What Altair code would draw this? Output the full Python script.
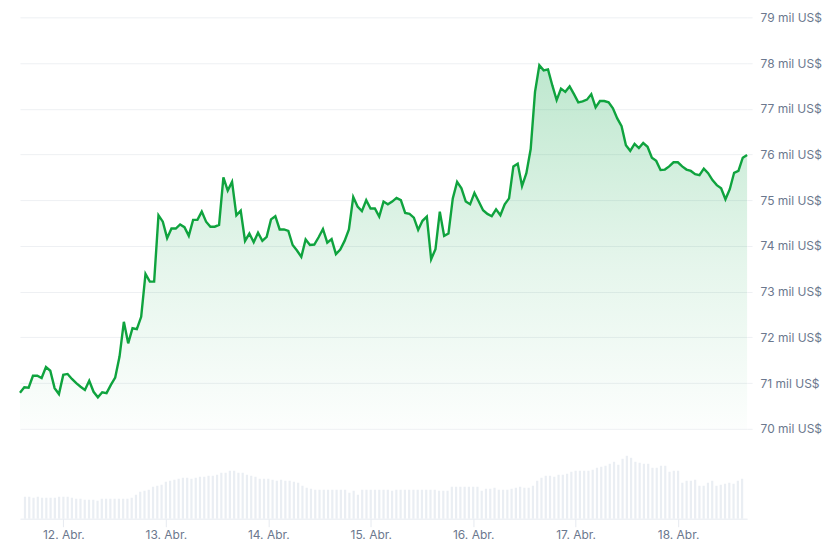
import altair as alt
import pandas as pd

start = "2024-04-11 15:00"
n_hours = 169

prices = [
    70.79, 70.91, 70.90, 71.16, 71.16, 71.11, 71.35, 71.27, 70.89, 70.76,
    71.18, 71.20, 71.09, 71.00, 70.92, 70.85, 71.05, 70.81, 70.69, 70.80,
    70.78, 70.96, 71.12, 71.58, 72.34, 71.87, 72.20, 72.18, 72.45, 73.39,
    73.22, 73.22, 74.67, 74.53, 74.17, 74.38, 74.38, 74.47, 74.41, 74.22,
    74.57, 74.57, 74.75, 74.53, 74.42, 74.42, 74.46, 75.50, 75.21, 75.40,
    74.67, 74.77, 74.11, 74.27, 74.08, 74.29, 74.11, 74.20, 74.58, 74.65,
    74.36, 74.36, 74.33, 74.02, 73.90, 73.76, 74.14, 74.02, 74.03, 74.19,
    74.37, 74.07, 74.15, 73.82, 73.92, 74.11, 74.36, 75.07, 74.86, 74.76,
    75.00, 74.82, 74.82, 74.64, 74.97, 74.91, 74.97, 75.05, 75.00, 74.72,
    74.70, 74.62, 74.35, 74.55, 74.64, 73.71, 73.93, 74.75, 74.22, 74.27,
    75.04, 75.40, 75.26, 74.97, 74.91, 75.16, 74.97, 74.78, 74.70, 74.65,
    74.80, 74.67, 74.91, 75.04, 75.74, 75.80, 75.31, 75.59, 76.12, 77.37,
    77.95, 77.84, 77.86, 77.51, 77.19, 77.44, 77.37, 77.49, 77.32, 77.14,
    77.16, 77.20, 77.32, 77.03, 77.17, 77.17, 77.14, 77.01, 76.79, 76.62,
    76.20, 76.08, 76.23, 76.14, 76.25, 76.17, 75.93, 75.86, 75.66, 75.67,
    75.74, 75.83, 75.83, 75.74, 75.67, 75.64, 75.57, 75.55, 75.69, 75.59,
    75.44, 75.33, 75.26, 75.02, 75.24, 75.60, 75.64, 75.93, 75.99,
]

volumes = [
    22, 22, 21, 22, 21, 21, 21, 21, 22,
    22, 22, 21,
    20, 20, 19, 19, 19, 18,
    20, 20, 20, 20, 20, 20, 20, 21,
    24, 27, 28, 29, 32,
    33, 34, 37, 38, 39,
    40, 41, 41, 40, 41,
    42, 42, 43, 43, 44,
    46, 46, 48, 48, 46,
    46, 44, 43, 42, 40,
    40, 40, 39, 38, 39,
    38, 38, 37, 36, 33,
    31, 30, 29, 29, 29,
    29, 29, 29, 29, 29,
    26, 28, 24, 29, 29,
    29, 29, 29, 29, 29,
    28, 29, 29, 29,
    29, 29, 29, 29, 29, 29, 29,
    28, 28, 28,
    32, 32, 32, 32, 32, 32, 32,
    28,
    30, 30,
    31,
    29, 29, 29,
    30, 31, 32,
    31, 31,
    33,
    38,
    41, 43, 43,
    42,
    44, 44, 45,
    47,
    48, 48, 48, 48,
    49, 51, 52,
    53, 55, 57,
    54,
    60, 63,
    61, 57,
    56, 55, 55,
    51, 51,
    53, 53,
    47, 48, 48,
    36, 38, 38, 39,
    33, 33,
    36, 38,
    33, 34,
    35, 36, 35,
    38, 40,
]

y_ticks = [70, 71, 72, 73, 74, 75, 76, 77, 78, 79]

times = pd.date_range(start, periods=n_hours, freq="h")
df = pd.DataFrame({"time": times, "price": prices, "volume": volumes})

label_color = "#6b788e"
grid_color = "#eef0f3"
green = "#0fa33e"
font = "Inter"

x_scale = alt.Scale(domain=[times[0].isoformat(), times[-1].isoformat()], nice=False)

x_enc_top = alt.X("time:T", scale=x_scale, axis=None)

area = alt.Chart(df).mark_area(
    line=False,
    color=alt.Gradient(
        gradient="linear",
        stops=[
            alt.GradientStop(color="rgba(22,170,80,0.28)", offset=0),
            alt.GradientStop(color="rgba(22,170,80,0.11)", offset=0.55),
            alt.GradientStop(color="rgba(22,170,80,0.01)", offset=1),
        ],
        x1=1, x2=1, y1=0, y2=1,
    ),
).encode(
    x=x_enc_top,
    y=alt.Y("price:Q"),
    y2=alt.datum(70),
)

line = alt.Chart(df).mark_line(color=green, strokeWidth=2.4).encode(
    x=x_enc_top,
    y=alt.Y(
        "price:Q",
        scale=alt.Scale(domain=[70, 79], nice=False, zero=False),
        axis=alt.Axis(
            orient="right",
            values=y_ticks,
            labelExpr="datum.value + ' mil US$'",
            title=None,
            domain=False,
            grid=True,
            gridColor=grid_color,
            tickColor=grid_color,
            tickSize=5,
            labelPadding=8,
            labelColor=label_color,
            labelFont=font,
            labelFontSize=12,
        ),
    ),
)

price_chart = alt.layer(area, line).properties(width=728, height=412)

vol_chart = alt.Chart(df).mark_bar(color="#eaeef3", width=2.2).encode(
    x=alt.X(
        "time:T",
        scale=x_scale,
        axis=alt.Axis(
            title=None,
            format="%d. Abr.",
            tickCount={"interval": "day", "step": 1},
            grid=False,
            domainColor="#e6eaf0",
            tickColor="#e6eaf0",
            tickSize=8,
            labelPadding=3,
            labelColor=label_color,
            labelFont=font,
            labelFontSize=12,
        ),
    ),
    y=alt.Y("volume:Q", scale=alt.Scale(domain=[0, 80]), axis=None),
).properties(width=728, height=80)

chart = alt.vconcat(price_chart, vol_chart, spacing=4).properties(
    padding={"left": 7, "top": 3, "right": 0, "bottom": 5}
).configure(
    background="white",
    view=alt.ViewConfig(stroke="transparent", strokeWidth=0),
)

chart.save("out.html", embed_options={"renderer": "svg", "actions": False})
